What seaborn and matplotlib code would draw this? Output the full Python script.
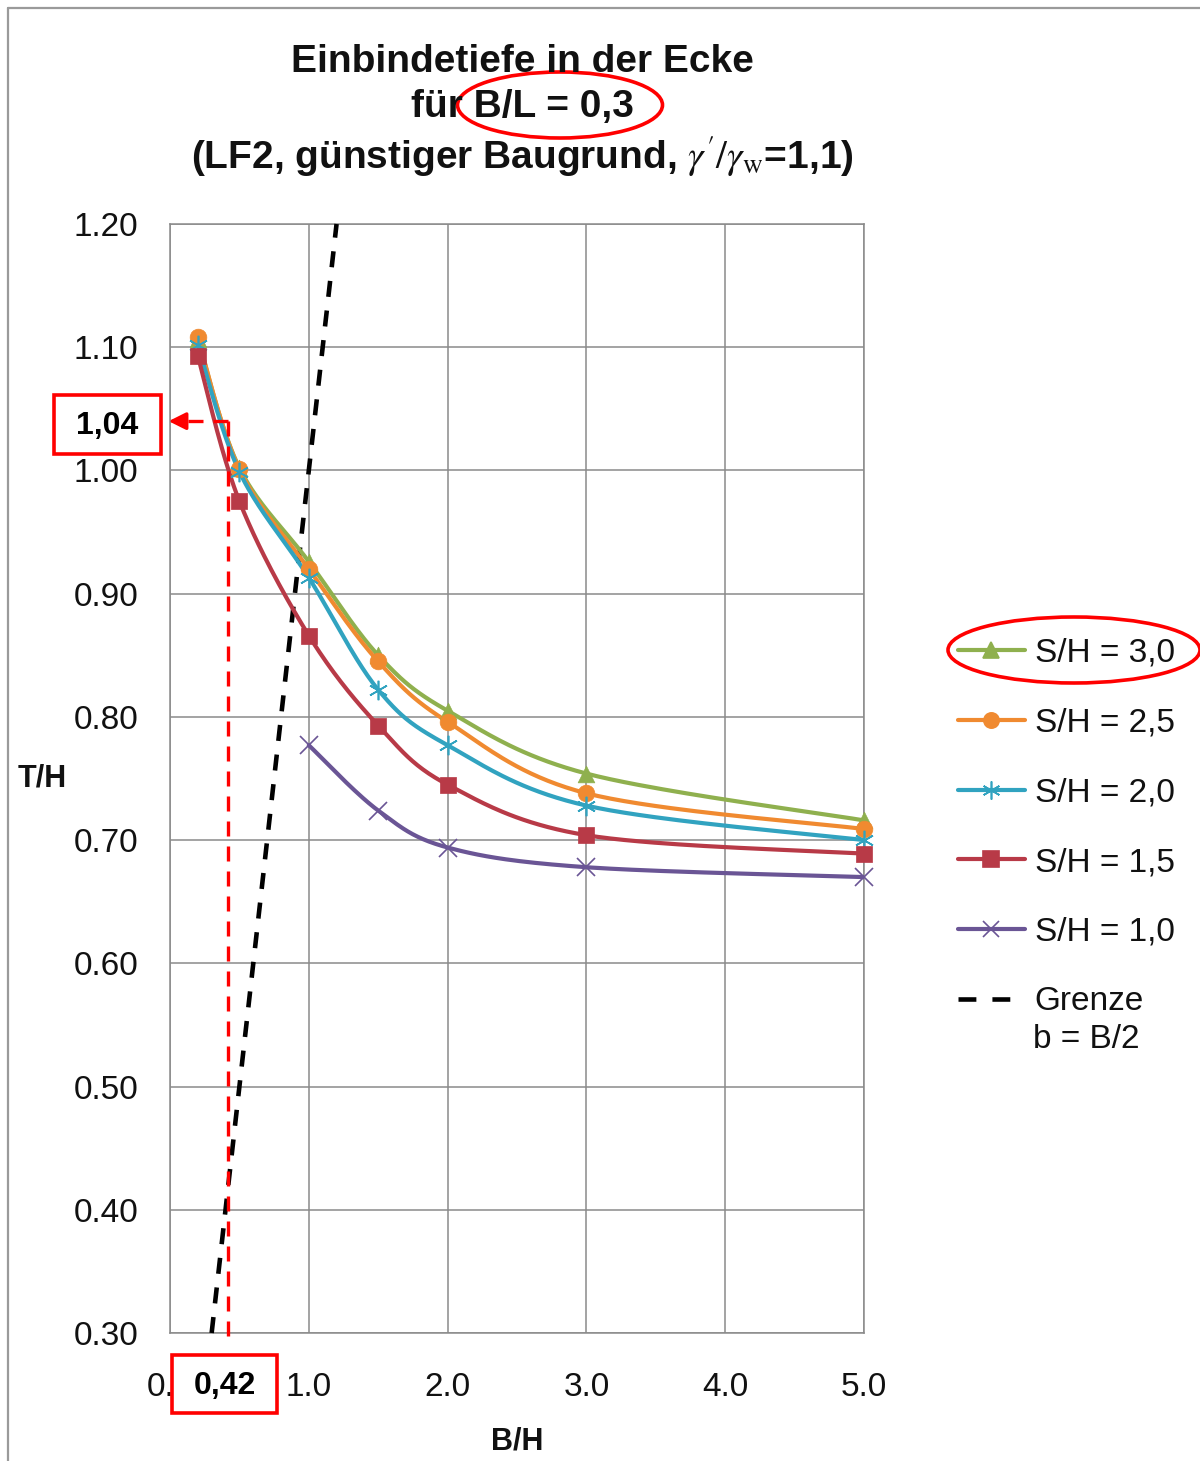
import numpy as np
import pandas as pd
import matplotlib
matplotlib.use("Agg")
import matplotlib.pyplot as plt
import seaborn as sns
from matplotlib.lines import Line2D
from matplotlib.patches import Ellipse, Rectangle

# ---- data -------------------------------------------------------------
bh = [0.2, 0.5, 1.0, 1.5, 2.0, 3.0, 5.0]
th_s30 = [1.107, 1.002, 0.926, 0.850, 0.805, 0.754, 0.716]
th_s25 = [1.108, 1.001, 0.920, 0.845, 0.796, 0.738, 0.709]
th_s20 = [1.102, 0.999, 0.913, 0.822, 0.777, 0.728, 0.700]
th_s15 = [1.093, 0.975, 0.866, 0.793, 0.745, 0.704, 0.689]
bh_s10 = [1.0, 1.5, 2.0, 3.0, 5.0]
th_s10 = [0.777, 0.724, 0.694, 0.678, 0.670]

series_labels = ["S/H = 3,0", "S/H = 2,5", "S/H = 2,0", "S/H = 1,5", "S/H = 1,0"]
grenze_x = [0.3, 1.2]
grenze_y = [0.3, 1.2]
read_x = 0.42
read_y = 1.04

x_ticks = [0, 1, 2, 3, 4, 5]
x_ticklabels = ["0.0", "1.0", "2.0", "3.0", "4.0", "5.0"]
y_ticks = [0.3, 0.4, 0.5, 0.6, 0.7, 0.8, 0.9, 1.0, 1.1, 1.2]
y_ticklabels = ["0.30", "0.40", "0.50", "0.60", "0.70", "0.80", "0.90", "1.00", "1.10", "1.20"]

colors = ["#8FB04E", "#F08A30", "#31A3C0", "#B83A47", "#6A5595"]
markers = ["^", "o", (6, 2, 0), "s", "x"]
msizes = [12, 12, 14, 12, 13]

# ---- style ------------------------------------------------------------
sns.set_theme(style="white")
plt.rcParams["font.family"] = ["Liberation Sans", "DejaVu Sans"]
plt.rcParams["mathtext.fontset"] = "stix"

W, H = 1200, 1461
fig = plt.figure(figsize=(W / 100, H / 100), dpi=100)
fig.patch.set_facecolor("white")


def fx(px):
    return px / W


def fy(py):
    return 1 - py / H


ax = fig.add_axes([fx(170), fy(1333), fx(864) - fx(170), fy(224) - fy(1333)])
ax.set_xlim(0, 5)
ax.set_ylim(0.3, 1.2)

# pixel scale used for the smoothed (Bezier) curves
sx = (864 - 170) / 5.0
sy = (1333 - 224) / 0.9


def smooth_curve(xs, ys, n=40):
    """Excel-style smoothed line: cubic Bezier segments through the points."""
    P = np.column_stack([np.asarray(xs) * sx, np.asarray(ys) * sy])
    out = []
    m = len(P)
    for i in range(m - 1):
        p0 = P[i - 1] if i > 0 else P[i]
        p1, p2 = P[i], P[i + 1]
        p3 = P[i + 2] if i + 2 < m else P[i + 1]
        b1 = p1 + (p2 - p0) / 6.0
        b2 = p2 - (p3 - p1) / 6.0
        t = np.linspace(0, 1, n)[:, None]
        c = ((1 - t) ** 3) * p1 + 3 * ((1 - t) ** 2) * t * b1 + 3 * (1 - t) * t ** 2 * b2 + t ** 3 * p2
        out.append(c if i == 0 else c[1:])
    C = np.vstack(out)
    return C[:, 0] / sx, C[:, 1] / sy


all_series = [
    (bh, th_s30), (bh, th_s25), (bh, th_s20), (bh, th_s15), (bh_s10, th_s10)
]

# grid
for v in x_ticks:
    ax.axvline(v, color="#8a8a8a", lw=1.1, zorder=0)
for v in y_ticks:
    ax.axhline(v, color="#8a8a8a", lw=1.1, zorder=0)

# limit line b = B/2
sns.lineplot(x=grenze_x, y=grenze_y, ax=ax, color="black", lw=3.3,
             linestyle=(0, (3.5, 3.0)), zorder=3, clip_on=False)

# curves with markers, drawn back to front
for i in [4, 3, 2, 1, 0]:
    xs, ys = all_series[i]
    cx, cy = smooth_curve(xs, ys)
    df = pd.DataFrame({"x": cx, "y": cy})
    sns.lineplot(data=df, x="x", y="y", ax=ax, sort=False, estimator=None,
                 color=colors[i], lw=3.0, zorder=4 + i * 0.1)
    filled = markers[i] not in ("x", (6, 2, 0))
    if filled:
        sns.scatterplot(x=xs, y=ys, ax=ax, marker=markers[i], s=msizes[i] ** 2,
                        color=colors[i], edgecolor=colors[i], linewidth=0.5,
                        zorder=5 + i * 0.1, clip_on=False)
    else:
        ax.plot(xs, ys, ls="none", marker=markers[i], ms=msizes[i], mew=1.2,
                color=colors[i], zorder=5 + i * 0.1, clip_on=False)

# reading lines for B/H = 0,42 -> T/H = 1,04
ax.plot([read_x, read_x], [read_y, 0.292], color="#FF0000", lw=2.4,
        linestyle=(0, (4.5, 3.0)), zorder=6, clip_on=False)
ax.plot([read_x, 0.085], [read_y, read_y], color="#FF0000", lw=2.4,
        linestyle=(0, (4.5, 3.0)), zorder=6, clip_on=False)
ax.annotate("", xy=(-0.03, read_y), xytext=(0.09, read_y),
            arrowprops=dict(arrowstyle="-|>", color="#FF0000", lw=2.4,
                            mutation_scale=26),
            annotation_clip=False, zorder=7)

# axes frame and ticks
for s in ax.spines.values():
    s.set_color("#8a8a8a")
    s.set_linewidth(1.1)
ax.set_xticks(x_ticks)
ax.set_xticklabels(x_ticklabels)
ax.set_yticks(y_ticks)
ax.set_yticklabels(y_ticklabels)
ax.tick_params(axis="x", length=0, pad=28, labelsize=24, labelcolor="#111111")
ax.tick_params(axis="y", length=0, pad=23, labelsize=24, labelcolor="#111111")
ax.set_xlabel("")
ax.set_ylabel("")
ax.grid(False)

fig.text(fx(42), fy(778), "T/H", ha="center", va="center", fontsize=22,
         fontweight="bold", color="#111111")
fig.text(fx(517), fy(1442), "B/H", ha="center", va="center", fontsize=22,
         fontweight="bold", color="#111111")

# title
fig.text(fx(522), fy(62), "Einbindetiefe in der Ecke", ha="center", va="center",
         fontsize=28, fontweight="bold", color="#111111")
fig.text(fx(522), fy(107), "für B/L = 0,3", ha="center", va="center",
         fontsize=28, fontweight="bold", color="#111111")
fig.text(fx(522), fy(157),
         r"(LF2, günstiger Baugrund, $\gamma'/\gamma_\mathrm{w}$=1,1)",
         ha="center", va="center", fontsize=28, fontweight="bold", color="#111111")

# legend
handles = []
for i in range(5):
    m = markers[i]
    filled = m not in ("x", (6, 2, 0))
    handles.append(Line2D([], [], color=colors[i], lw=3.0, marker=m,
                          ms=msizes[i] - 1, mew=1.2,
                          markerfacecolor=colors[i] if filled else "none"))
handles.append(Line2D([], [], color="black", lw=3.3, linestyle=(0, (3.9, 3.5))))
labels = series_labels + ["Grenze"]
fig.legend(handles, labels, loc="upper left",
           bbox_to_anchor=(fx(958), fy(638)), frameon=False, fontsize=24,
           handlelength=2.0, handletextpad=0.3, labelspacing=1.16,
           borderpad=0, borderaxespad=0, labelcolor="#111111")
fig.text(fx(1033), fy(1040), "b = B/2", ha="left", va="center", fontsize=24,
         color="#111111")

# highlight marks
fig.patches.append(Ellipse((fx(560), fy(105)), fx(205), 66 / H, fill=False,
                           edgecolor="#FF0000", lw=2.6, transform=fig.transFigure))
fig.patches.append(Ellipse((fx(1074), fy(650)), fx(252), 66 / H, fill=False,
                           edgecolor="#FF0000", lw=2.6, transform=fig.transFigure))

fig.patches.append(Rectangle((fx(54), fy(454)), fx(107), 59 / H, facecolor="white",
                             edgecolor="#FF0000", lw=2.6, transform=fig.transFigure,
                             zorder=8))
fig.text(fx(107), fy(426), "1,04", ha="center", va="center", fontsize=23,
         fontweight="bold", color="black", zorder=9)
fig.patches.append(Rectangle((fx(172), fy(1413)), fx(105), 58 / H, facecolor="white",
                             edgecolor="#FF0000", lw=2.6, transform=fig.transFigure,
                             zorder=8))
fig.text(fx(225), fy(1386), "0,42", ha="center", va="center", fontsize=23,
         fontweight="bold", color="black", zorder=9)

# outer frame
fig.lines.append(Line2D([fx(8), fx(8)], [fy(8), 0], color="#9a9a9a", lw=1.6,
                        transform=fig.transFigure))
fig.lines.append(Line2D([fx(8), 1], [fy(8), fy(8)], color="#9a9a9a", lw=1.6,
                        transform=fig.transFigure))

fig.savefig("out.png", dpi=100, facecolor="white")
